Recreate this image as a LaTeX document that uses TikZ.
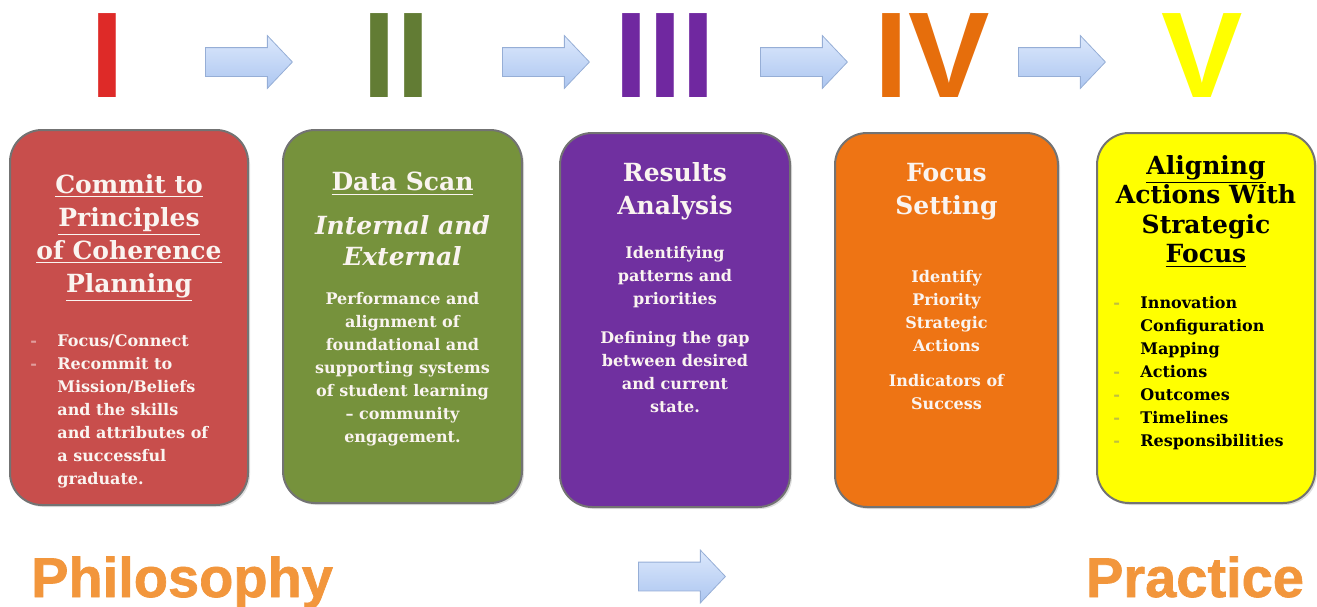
\documentclass[tikz,border=0pt]{standalone}
\usepackage{fontspec}
\setmainfont{DejaVu Serif}
\newfontfamily\numfont{Liberation Sans}
\newfontfamily\wordfont[BoldFeatures={FakeBold=1.2}]{Liberation Sans}
\usetikzlibrary{shapes.arrows, shadows}

\definecolor{redbox}{RGB}{200,78,76}
\definecolor{greenbox}{RGB}{118,146,60}
\definecolor{purplebox}{RGB}{112,48,160}
\definecolor{orangebox}{RGB}{238,116,20}
\definecolor{yellowbox}{RGB}{255,255,0}
\definecolor{numred}{RGB}{222,42,40}
\definecolor{numgreen}{RGB}{98,124,52}
\definecolor{numpurple}{RGB}{112,40,160}
\definecolor{numorange}{RGB}{230,110,12}
\definecolor{arrowtop}{RGB}{220,232,252}
\definecolor{arrowbot}{RGB}{172,198,240}
\definecolor{arrowline}{RGB}{150,174,214}
\definecolor{wordorange}{RGB}{242,150,60}
\definecolor{lighttext}{RGB}{250,244,240}

\tikzstyle{stage} = [rectangle, rounded corners=16pt, draw=black!55, line width=1pt, inner sep=0pt, drop shadow={opacity=0.25, shadow xshift=1pt, shadow yshift=-1pt}]
\tikzstyle{numeral} = [inner sep=0pt, font=\numfont\bfseries\fontsize{61}{61}\selectfont]
\tikzstyle{blockarrow} = [single arrow, anchor=tail, draw=arrowline, top color=arrowtop, bottom color=arrowbot, minimum height=43.5pt, single arrow head extend=6pt, single arrow tip angle=93, inner sep=7pt]
\tikzstyle{title} = [inner sep=0pt, align=center, anchor=north, text=lighttext, font=\bfseries\fontsize{12.5}{16.5}\selectfont]
\tikzstyle{body} = [inner sep=0pt, align=center, anchor=north, text=lighttext, font=\bfseries\fontsize{8}{11.5}\selectfont]
\tikzstyle{list} = [inner sep=0pt, align=left, anchor=north west, text=lighttext, font=\bfseries\fontsize{8}{11.5}\selectfont]
\tikzstyle{word} = [inner sep=0pt, anchor=base, text=wordorange, font=\wordfont\bfseries\fontsize{28}{28}\selectfont]

\newcommand{\bul}[1]{\makebox[13.5pt][l]{\textcolor{#1}{-}}}
\newcommand{\ind}{\hspace*{13.5pt}}

\begin{document}
\begin{tikzpicture}[x=0.5pt, y=-0.5pt]
\useasboundingbox (0,0) rectangle (1317,606);

\node [numeral, text=numred] at (107,56) (n1) {I};
\node [numeral, text=numgreen] at (396,56) (n2) {II};
\node [numeral, text=numpurple] at (665,56) (n3) {III};
\node [numeral, text=numorange] at (932,56) (n4) {IV};
\node [numeral, text=yellowbox] at (1202,56) (n5) {V};

\node [blockarrow] at (205,62) (arrow1) {};
\node [blockarrow] at (502,62) (arrow2) {};
\node [blockarrow] at (760,62) (arrow3) {};
\node [blockarrow] at (1018,62) (arrow4) {};

\node [stage, fill=redbox, minimum width=119pt, minimum height=187.5pt] at (129,317.5) (box1) {};
\node [stage, fill=greenbox, minimum width=119.5pt, minimum height=186.5pt] at (402.5,316.5) (box2) {};
\node [stage, fill=purplebox, minimum width=115pt, minimum height=187pt] at (675,320) (box3) {};
\node [stage, fill=orangebox, minimum width=111.5pt, minimum height=187pt] at (946.5,320) (box4) {};
\node [stage, fill=yellowbox, minimum width=109pt, minimum height=185pt] at (1206,318) (box5) {};

\node [title] at (129,174) (title1) {\underline{Commit to}\\\underline{Principles}\\\underline{of Coherence}\\\underline{Planning}};
\node [list] at (30,334) (list1) {\bul{redbox!55!white}Focus/Connect\\\bul{redbox!55!white}Recommit to\\\ind Mission/Beliefs\\\ind and the skills\\\ind and attributes of\\\ind a successful\\\ind graduate.};

\node [title] at (402.5,172) (title2) {\underline{Data Scan}};
\node [title, font=\bfseries\itshape\fontsize{12.5}{15.5}\selectfont] at (402.5,215) (sub2) {Internal and\\External};
\node [body] at (402.5,292) (body2) {Performance and\\alignment of\\foundational and\\supporting systems\\of student learning\\– community\\engagement.};

\node [title] at (675,162) (title3) {Results\\Analysis};
\node [body] at (675,246) (body3) {Identifying\\patterns and\\priorities\\[8pt]Defining the gap\\between desired\\and current\\state.};

\node [title] at (946.5,163) (title4) {Focus\\Setting};
\node [body] at (946.5,270) (body4) {Identify\\Priority\\Strategic\\Actions\\[6pt]Indicators of\\Success};

\node [title, text=black, font=\bfseries\fontsize{12.5}{14.75}\selectfont] at (1206,155) (title5) {\underline{Aligning}\\Actions With\\Strategic\\\underline{Focus}};
\node [list, text=black] at (1113,296) (list5) {\bul{yellowbox!50!gray}Innovation\\\ind Configuration\\\ind Mapping\\\bul{yellowbox!50!gray}Actions\\\bul{yellowbox!50!gray}Outcomes\\\bul{yellowbox!50!gray}Timelines\\\bul{yellowbox!50!gray}Responsibilities};

\node [word] at (182,597) (philosophy) {Philosophy};
\node [blockarrow] at (638,576.5) (arrow5) {};
\node [word] at (1195,597) (practice) {Practice};
\end{tikzpicture}
\end{document}
